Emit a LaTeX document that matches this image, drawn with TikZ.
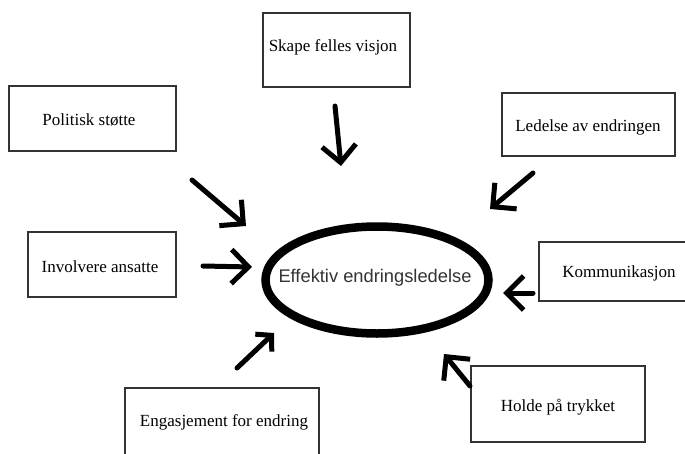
\documentclass[tikz,border=0pt]{standalone}
\usepackage{fontspec}
\setmainfont{Liberation Serif}
\newfontfamily\ellfont{Liberation Sans}
\usetikzlibrary{arrows.meta}
\begin{document}
\begin{tikzpicture}[x=1pt,y=-1pt,
  box/.style={draw=black!80,line width=1.2pt,fill=white},
  lbl/.style={font=\fontsize{17}{20}\selectfont,text=black},
  arr/.style={line width=5pt,line cap=round,-{Straight Barb[length=17pt,width=34pt,line width=5pt]}},
  ]
\useasboundingbox (0,0) rectangle (685,453);
\fill[white] (0,0) rectangle (685,453);
% boxes
\draw[box] (263,13) rectangle (410,87);
\draw[box] (9,86) rectangle (176,151);
\draw[box] (502,93) rectangle (675,156);
\draw[box] (28,232) rectangle (176,297);
\draw[box] (539,242) rectangle (690,301);
\draw[box] (471,366) rectangle (645,442);
\draw[box] (125,388) rectangle (319,460);
% labels
\node[lbl] (skape) at (333,47) {Skape felles visjon};
\node[lbl] (politisk) at (89,120) {Politisk støtte};
\node[lbl] (ledelse) at (588,127) {Ledelse av endringen};
\node[lbl] (involvere) at (100,267) {Involvere ansatte};
\node[lbl] (komm) at (619,273) {Kommunikasjon};
\node[lbl] (holde) at (558,407) {Holde på trykket};
\node[lbl] (engasj) at (224,422) {Engasjement for endring};
% centre
\draw[line width=8.5pt] (377,280) ellipse [x radius=111.5pt, y radius=53.5pt];
\node[font=\ellfont\fontsize{18.3}{21}\selectfont,text=black!80] (centre) at (375,278) {Effektiv endringsledelse};
% arrow coordinates
\coordinate (s1) at (335,106); \coordinate (s2) at (341,166);
\coordinate (p1) at (192,180); \coordinate (p2) at (246,226);
\coordinate (l1) at (533,173); \coordinate (l2) at (490,209);
\coordinate (i1) at (203,266); \coordinate (i2) at (252,267);
\coordinate (k1) at (533,293); \coordinate (k2) at (503,293);
\coordinate (h1) at (470,386); \coordinate (h2) at (444,354);
\coordinate (e1) at (237,368); \coordinate (e2) at (274,333);
\draw[arr] (s1) -- (s2);
\draw[arr] (p1) -- (p2);
\draw[arr] (l1) -- (l2);
\draw[arr] (i1) -- (i2);
\draw[arr] (k1) -- (k2);
\draw[arr] (h1) -- (h2);
\draw[arr,-{Straight Barb[length=11pt,width=24pt,line width=5pt]}] (e1) -- (e2);
\end{tikzpicture}
\end{document}
